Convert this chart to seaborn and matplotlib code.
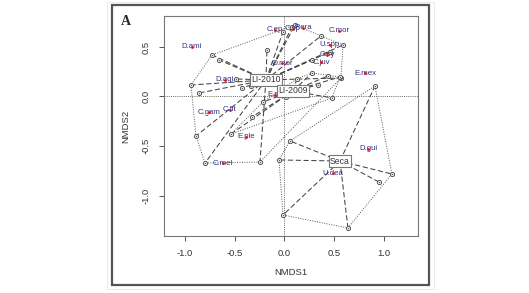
import numpy as np
import pandas as pd
import matplotlib
matplotlib.use("Agg")
import matplotlib.pyplot as plt
from matplotlib.patches import Rectangle
import seaborn as sns

sns.set_style("white")
plt.rcParams['font.family'] = ['Liberation Sans', 'DejaVu Sans']

# ---- data: site scores per group ----
seca_x = [0.908, 0.055, -0.055, -0.015, 0.637, 0.948, 1.078]
seca_y = [0.106, -0.449, -0.641, -1.197, -1.328, -0.864, -0.783]

li2010_x = [-0.727, -0.657, -0.938, -0.858, -0.888, -0.797, -0.246, -0.486, -0.426, -0.336,
            -0.176, -0.015, 0.075, 0.105, 0.587, 0.456, 0.366, 0.276, 0.567]
li2010_y = [0.419, 0.369, 0.116, 0.035, -0.399, -0.672, -0.662, 0.177, 0.086, 0.106,
            0.470, 0.652, 0.702, 0.722, 0.520, 0.449, 0.611, 0.369, 0.187]

li2009_x = [0.476, 0.336, 0.125, 0.276, 0.436, -0.216, -0.326, -0.537, 0.015, 0.557]
li2009_y = [-0.015, 0.116, 0.177, 0.237, 0.207, -0.056, -0.207, -0.379, -0.005, 0.197]

groups = ["LI-2010", "LI-2009", "Seca"]
centroid_x = [-0.186, 0.085, 0.557]
centroid_y = [0.167, 0.056, -0.652]

# ---- species scores ----
species = ["D.ami", "C.ep", "C.sp", "P.era", "C.mor", "U.spp", "C.sy", "C.juv", "O.mor",
           "E.mex", "D.agi", "E.sp", "C.gam", "C.fit", "E.ple", "C.mel", "D.gui", "U.dea"]
sp_x = [-0.928, -0.095, 0.085, 0.186, 0.547, 0.456, 0.426, 0.366, -0.025,
        0.807, -0.597, -0.095, -0.757, -0.547, -0.386, -0.617, 0.838, 0.486]
sp_y = [0.500, 0.672, 0.682, 0.692, 0.662, 0.520, 0.419, 0.348, 0.338,
        0.237, 0.167, 0.015, -0.157, -0.136, -0.409, -0.672, -0.530, -0.773]

xticks = [-1.0, -0.5, 0.0, 0.5, 1.0]
yticks = [-1.0, -0.5, 0.0, 0.5]


def convex_hull(pts):
    pts = sorted(set(pts))
    def cross(o, a, b):
        return (a[0]-o[0])*(b[1]-o[1]) - (a[1]-o[1])*(b[0]-o[0])
    lower, upper = [], []
    for p in pts:
        while len(lower) >= 2 and cross(lower[-2], lower[-1], p) <= 0:
            lower.pop()
        lower.append(p)
    for p in reversed(pts):
        while len(upper) >= 2 and cross(upper[-2], upper[-1], p) <= 0:
            upper.pop()
        upper.append(p)
    return lower[:-1] + upper[:-1]


fig = plt.figure(figsize=(5.29, 2.93), dpi=100)
ax = fig.add_axes([0.310, 0.1945, 0.480, 0.751])

ax.axhline(0, color='#666666', lw=0.7, ls=(0, (1, 1.2)), zorder=1)
ax.axvline(0, color='#666666', lw=0.7, ls=(0, (1, 1.2)), zorder=1)

site_frames = []
for g, xs, ys, cx, cy in zip(groups, [li2010_x, li2009_x, seca_x], [li2010_y, li2009_y, seca_y],
                             centroid_x, centroid_y):
    # spider
    for x, y in zip(xs, ys):
        ax.plot([cx, x], [cy, y], color='#444444', lw=0.75, ls=(0, (5, 2.5)), zorder=2)
    # hull
    h = convex_hull(list(zip(xs, ys)))
    h = h + [h[0]]
    ax.plot([p[0] for p in h], [p[1] for p in h], color='#555555', lw=0.7,
            ls=(0, (1, 1.5)), zorder=2)
    site_frames.append(pd.DataFrame({"x": xs, "y": ys, "group": g}))

sites = pd.concat(site_frames, ignore_index=True)
sns.scatterplot(data=sites, x="x", y="y", ax=ax, s=9, facecolor='white',
                edgecolor='#555555', linewidth=0.7, legend=False, zorder=3)
sns.scatterplot(data=sites, x="x", y="y", ax=ax, s=1, color='#555555',
                linewidth=0, legend=False, zorder=3)

spdf = pd.DataFrame({"x": sp_x, "y": sp_y, "sp": species})
for x, y, s in zip(sp_x, sp_y, species):
    ax.text(x, y, s, fontsize=5.6, color='#2e3180', ha='center', va='center', zorder=4)
sns.scatterplot(data=spdf, x="x", y="y", ax=ax, s=4, color='#e01010', linewidth=0,
                legend=False, zorder=5)

for g, cx, cy in zip(groups, centroid_x, centroid_y):
    ax.text(cx, cy, g, fontsize=6.2, color='#333333', ha='center', va='center', zorder=6,
            bbox=dict(boxstyle='square,pad=0.15', fc='white', ec='#777777', lw=0.8))

ax.set_xlim(-1.209, 1.339)
ax.set_ylim(-1.409, 0.813)
ax.set_xticks(xticks)
ax.set_yticks(yticks)
ax.set_xticklabels([f"{t:.1f}" for t in xticks])
ax.set_yticklabels([f"{t:.1f}" for t in yticks], rotation=90, va='center')
ax.tick_params(axis='both', direction='out', length=3.5, width=0.7, colors='#555555',
               labelcolor='#333333', labelsize=6.8, pad=6, left=True, bottom=True)
for sp in ax.spines.values():
    sp.set_color('#777777')
    sp.set_linewidth(0.8)
ax.set_xlabel("NMDS1", fontsize=6.8, color='#333333', labelpad=7)
ax.set_ylabel("NMDS2", fontsize=6.8, color='#333333', labelpad=8)

# outer frame and panel letter
fig.patches.append(Rectangle((0.2117, 0.0273), 0.599, 0.956, transform=fig.transFigure,
                             fill=False, ec='#555555', lw=1.6, zorder=0))
fig.patches.append(Rectangle((0.202, 0.012), 0.618, 0.98, transform=fig.transFigure,
                             fill=False, ec='#e8e8e8', lw=0.6, zorder=0))
fig.text(0.228, 0.925, "A", fontsize=10, fontweight='bold',
         family=['Liberation Serif', 'DejaVu Serif'], ha='left', va='center')

fig.savefig("out.png", dpi=100)
